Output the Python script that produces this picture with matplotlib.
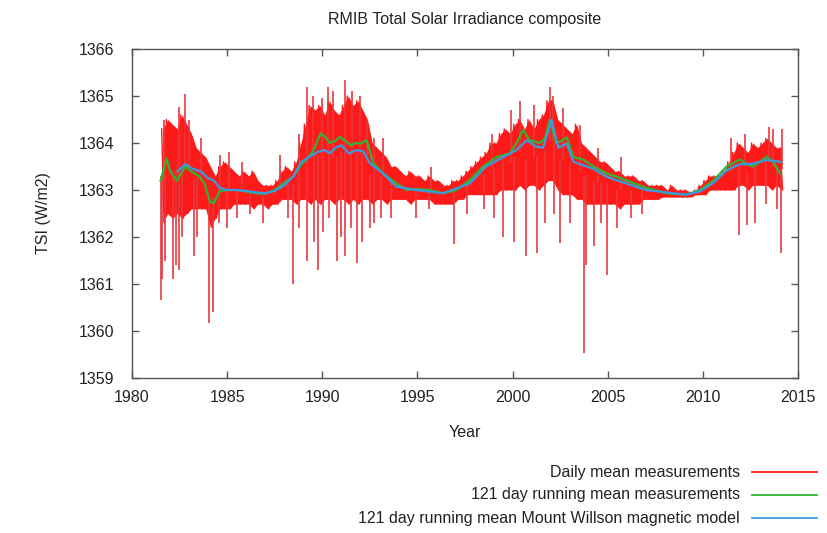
import numpy as np
import matplotlib
matplotlib.use("Agg")
import matplotlib.pyplot as plt
from matplotlib.lines import Line2D

plt.rcParams['font.family'] = ['Liberation Sans', 'DejaVu Sans']

# daily TSI, summarised per quarter year: typical upper and lower level (W/m2)
bin_start = 1981.5
bin_width = 0.25
daily_hi = [1364.3, 1364.5,
            1364.4, 1364.3, 1364.6, 1364.4,
            1364.2, 1363.9, 1363.8, 1363.7,
            1363.5, 1363.3, 1363.5, 1363.6,
            1363.5, 1363.4, 1363.3, 1363.4,
            1363.3, 1363.4, 1363.2, 1363.1,
            1363.1, 1363.1, 1363.2, 1363.4,
            1363.5, 1363.4, 1363.6, 1364.0,
            1364.4, 1364.8, 1364.7, 1364.8,
            1364.6, 1364.9, 1364.7, 1364.6,
            1364.8, 1365.0, 1364.8, 1364.9,
            1364.7, 1364.5, 1364.0, 1363.9,
            1363.8, 1363.7, 1363.5, 1363.5,
            1363.4, 1363.3, 1363.4, 1363.3,
            1363.3, 1363.2, 1363.3, 1363.2,
            1363.2, 1363.1, 1363.1, 1363.2,
            1363.2, 1363.3, 1363.4, 1363.5,
            1363.6, 1363.7, 1363.8, 1364.0,
            1364.0, 1364.2, 1364.3, 1364.2,
            1364.4, 1364.5, 1364.3, 1364.5,
            1364.3, 1364.5, 1364.6, 1364.9,
            1364.9, 1364.5, 1364.4, 1364.3,
            1364.2, 1364.4, 1364.0, 1363.9,
            1363.8, 1363.7, 1363.6, 1363.6,
            1363.5, 1363.4, 1363.4, 1363.3,
            1363.3, 1363.3, 1363.2, 1363.2,
            1363.1, 1363.1, 1363.1, 1363.1,
            1363.0, 1363.1, 1363.0, 1363.0,
            1363.0, 1362.95, 1363.0, 1363.1,
            1363.2, 1363.3, 1363.3, 1363.3,
            1363.4, 1363.6, 1363.8, 1364.0,
            1363.9, 1363.8, 1364.0, 1363.9,
            1364.0, 1364.1, 1364.0, 1363.9,
            1363.9]
daily_lo = [1362.3, 1362.5,
            1362.4, 1362.5, 1362.4, 1362.5,
            1362.6, 1362.6, 1362.6, 1362.6,
            1362.2, 1362.4, 1362.6, 1362.6,
            1362.6, 1362.7, 1362.7, 1362.7,
            1362.7, 1362.6, 1362.7, 1362.7,
            1362.6, 1362.7, 1362.7, 1362.8,
            1362.8, 1362.8, 1362.7, 1362.8,
            1362.8, 1362.7, 1362.8, 1362.7,
            1362.8, 1362.8, 1362.7, 1362.8,
            1362.8, 1362.7, 1362.8, 1362.7,
            1362.8, 1362.8, 1362.7, 1362.8,
            1362.8, 1362.7, 1362.8, 1362.8,
            1362.8, 1362.8, 1362.7, 1362.8,
            1362.8, 1362.8, 1362.8, 1362.7,
            1362.7, 1362.7, 1362.7, 1362.7,
            1362.8, 1362.8, 1362.9, 1362.9,
            1362.9, 1362.9, 1362.9, 1362.9,
            1362.9, 1363.0, 1363.0, 1363.0,
            1363.0, 1363.1, 1363.0, 1363.1,
            1363.1, 1363.0, 1363.1, 1363.2,
            1363.2, 1363.0, 1362.9, 1362.9,
            1362.9, 1362.8, 1362.8, 1362.7,
            1362.7, 1362.7, 1362.7, 1362.7,
            1362.7, 1362.7, 1362.6, 1362.7,
            1362.7, 1362.7, 1362.7, 1362.8,
            1362.8, 1362.8, 1362.8, 1362.85,
            1362.85, 1362.85, 1362.85, 1362.85,
            1362.85, 1362.85, 1362.9, 1362.9,
            1362.9, 1363.0, 1363.0, 1363.0,
            1363.0, 1363.0, 1363.0, 1363.1,
            1363.1, 1363.0, 1363.1, 1363.1,
            1363.1, 1363.1, 1363.0, 1363.1,
            1363.0]

# single days well outside the usual band
spike_year = [1981.52, 1981.6, 1981.7, 1981.75, 1982.17, 1982.3, 1982.47, 1982.47,
              1982.65, 1982.8, 1983.0, 1983.25, 1983.4, 1983.6, 1984.04, 1984.27,
              1984.55, 1984.6, 1985.0, 1985.1, 1985.5, 1985.8, 1986.2, 1986.9,
              1987.8, 1988.2, 1988.48, 1988.8, 1988.8, 1989.2, 1989.2, 1989.5,
              1989.55, 1989.75, 1990.0, 1990.05, 1990.3, 1990.35, 1990.55, 1990.75,
              1991.0, 1991.2, 1991.2, 1991.5, 1991.55, 1991.8, 1992.0, 1992.1,
              1992.35, 1992.5, 1992.7, 1992.7, 1993.1, 1993.2, 1993.6, 1994.9,
              1995.6, 1995.7, 1996.9, 1997.6, 1998.5, 1998.9, 1999.0, 1999.5,
              1999.9, 2000.1, 2000.4, 2000.7, 2001.1, 2001.3, 2001.7, 2001.95,
              2002.1, 2002.2, 2002.5, 2002.65, 2003.0, 2003.55, 2003.75, 2003.85,
              2004.3, 2004.5, 2004.65, 2004.95, 2005.5, 2005.7, 2006.2, 2006.8,
              2011.5, 2011.9, 2012.2, 2012.3, 2012.75, 2013.3, 2013.45, 2013.7,
              2013.9, 2014.1, 2014.15]
spike_tsi = [1360.67, 1361.1, 1364.5, 1361.5, 1361.1, 1361.4, 1361.3, 1364.77,
             1362.0, 1365.04, 1364.5, 1361.6, 1362.0, 1364.1, 1360.16, 1360.4,
             1362.3, 1363.75, 1362.2, 1363.8, 1362.4, 1363.6, 1362.5, 1362.3,
             1363.74, 1362.4, 1361.0, 1362.2, 1364.2, 1361.5, 1365.2, 1365.0,
             1361.9, 1361.3, 1364.95, 1362.1, 1365.2, 1362.4, 1365.1, 1361.5,
             1362.0, 1361.6, 1365.34, 1362.2, 1365.1, 1361.44, 1365.0, 1361.9,
             1364.5, 1362.2, 1362.3, 1364.1, 1362.4, 1364.1, 1362.4, 1362.4,
             1362.6, 1363.5, 1361.86, 1362.5, 1362.6, 1364.2, 1362.4, 1362.0,
             1364.7, 1361.9, 1364.9, 1361.6, 1364.8, 1361.65, 1362.3, 1365.2,
             1365.0, 1362.5, 1361.87, 1364.74, 1362.3, 1364.38, 1359.53, 1361.4,
             1361.8, 1363.9, 1362.3, 1361.2, 1362.2, 1363.7, 1362.4, 1362.5,
             1364.1, 1362.04, 1364.2, 1362.25, 1362.3, 1362.7, 1364.35, 1364.3,
             1362.6, 1361.65, 1364.3]

# 121 day running mean of the measurements
green_year = [1981.5, 1981.82, 1982.0, 1982.35, 1982.8, 1983.1, 1983.5, 1983.8, 1984.1,
              1984.3, 1984.6, 1985.0, 1985.5, 1986.0, 1986.5, 1987.0, 1987.5, 1988.0,
              1988.5, 1988.9, 1989.3, 1989.6, 1989.9, 1990.1, 1990.4, 1990.7, 1990.92,
              1991.2, 1991.5, 1991.75, 1992.0, 1992.33, 1992.68, 1993.2, 1993.9,
              1994.43, 1995.0, 1995.65, 1996.35, 1997.05, 1997.75, 1998.46, 1999.16,
              1999.86, 2000.2, 2000.56, 2000.9, 2001.43, 2001.7, 2001.96, 2002.3,
              2002.6, 2002.85, 2003.2, 2003.7, 2004.25, 2004.95, 2005.5, 2006.0,
              2007.0, 2008.1, 2009.1, 2009.85, 2010.55, 2011.25, 2011.95, 2012.3,
              2012.65, 2013.0, 2013.35, 2013.7, 2014.05]
green_tsi = [1363.2, 1363.67, 1363.4, 1363.2, 1363.5, 1363.4, 1363.3, 1363.15, 1362.75,
             1362.72, 1362.97, 1363.0, 1363.0, 1362.97, 1362.93, 1362.92, 1363.0, 1363.15,
             1363.3, 1363.55, 1363.7, 1363.9, 1364.2, 1364.15, 1364.0, 1364.05, 1364.13,
             1364.05, 1363.95, 1364.0, 1363.99, 1364.06, 1363.57, 1363.35, 1363.14,
             1363.0, 1363.02, 1363.0, 1362.93, 1363.0, 1363.21, 1363.5, 1363.7,
             1363.78, 1364.0, 1364.28, 1364.06, 1364.0, 1364.1, 1364.49, 1364.0,
             1364.05, 1364.12, 1363.7, 1363.65, 1363.5, 1363.35, 1363.28, 1363.2,
             1363.05, 1362.93, 1362.9, 1363.0, 1363.2, 1363.5, 1363.65, 1363.55,
             1363.5, 1363.6, 1363.71, 1363.6, 1363.35]

# 121 day running mean of the Mount Wilson magnetic model
blue_year = [1982.4, 1982.8, 1983.2, 1983.6, 1984.0, 1984.3, 1984.6, 1985.0, 1985.5,
             1986.0, 1986.5, 1987.0, 1987.5, 1988.0, 1988.5, 1988.9, 1989.3, 1989.7,
             1990.1, 1990.4, 1990.7, 1991.0, 1991.4, 1991.8, 1992.15, 1992.5, 1993.2,
             1993.9, 1994.95, 1996.35, 1997.75, 1998.6, 1999.5, 2000.2, 2000.75,
             2001.25, 2001.6, 2002.05, 2002.4, 2002.85, 2003.2, 2004.25, 2004.95,
             2007.0, 2009.1, 2009.85, 2010.55, 2011.25, 2011.95, 2012.65, 2013.35,
             2014.05]
blue_tsi = [1363.4, 1363.55, 1363.45, 1363.4, 1363.25, 1363.2, 1363.05, 1363.0, 1363.0,
            1362.98, 1362.95, 1362.93, 1362.98, 1363.1, 1363.3, 1363.6, 1363.7, 1363.8,
            1363.85, 1363.78, 1363.9, 1363.95, 1363.78, 1363.85, 1363.82, 1363.57, 1363.35,
            1363.07, 1363.0, 1362.93, 1363.14, 1363.5, 1363.7, 1363.85, 1364.06,
            1363.92, 1363.9, 1364.49, 1363.9, 1363.99, 1363.6, 1363.45, 1363.28,
            1363.0, 1362.9, 1362.97, 1363.15, 1363.42, 1363.55, 1363.56, 1363.64,
            1363.6]

x_ticks = [1980, 1985, 1990, 1995, 2000, 2005, 2010, 2015]
y_ticks = [1359, 1360, 1361, 1362, 1363, 1364, 1365, 1366]

labels = ["Daily mean measurements",
          "121 day running mean measurements",
          "121 day running mean Mount Willson magnetic model"]
colors = ["#ff1a1a", "#2fb52f", "#3a9ae0"]

n = len(daily_hi)
hi = np.array(daily_hi)
lo = np.array(daily_lo)
edges = bin_start + np.arange(n + 1) * bin_width
t_hi = edges[:-1] + 0.06
t_lo = edges[:-1] + 0.19

# zig-zag between the high and low of every quarter gives the daily scatter
t = np.ravel(np.column_stack([t_hi, t_lo]))
v = np.ravel(np.column_stack([hi, lo]))

# each spike starts from the middle of the band of its own quarter
idx = np.clip(((np.array(spike_year) - bin_start) / bin_width).astype(int), 0, n - 1)
spike_base = (hi[idx] + lo[idx]) / 2

fig = plt.figure(figsize=(8.27, 5.33), dpi=100)
ax = fig.add_axes([132 / 827, 1 - 378 / 533, 666 / 827, 329 / 533])

ax.fill_between(edges[:-1] + bin_width / 2, lo, hi, color=colors[0], lw=0)
ax.plot(t, v, color=colors[0], lw=1.0)
ax.vlines(spike_year, spike_base, spike_tsi, color="#e8383c", lw=1.2)
ax.plot(green_year, green_tsi, color=colors[1], lw=1.6)
ax.plot(blue_year, blue_tsi, color=colors[2], lw=1.6)

ax.set_xlim(1980, 2015)
ax.set_ylim(1359, 1366)
ax.set_xticks(x_ticks)
ax.set_yticks(y_ticks)
ax.tick_params(direction="in", length=5, width=1, color="#555555",
               top=True, right=True, labelsize=11.5, labelcolor="#222222")
ax.tick_params(axis="y", pad=13)
ax.tick_params(axis="x", pad=9)
for s in ax.spines.values():
    s.set_color("#555555")
    s.set_linewidth(1)

ax.set_title("RMIB Total Solar Irradiance composite", fontsize=11.5,
             color="#222222", pad=18)
ax.set_xlabel("Year", fontsize=11.5, color="#222222", labelpad=14)
ax.set_ylabel("TSI (W/m2)", fontsize=11.5, color="#222222", labelpad=20)

# key below the axes, text right-aligned with a line sample after it
rows_y = [472, 495, 518]
for lab, col, py in zip(labels, colors, rows_y):
    fy = 1 - py / 533
    fig.text(740 / 827, fy, lab, ha="right", va="center", fontsize=11.5,
             color="#222222")
    fig.add_artist(Line2D([752 / 827, 817 / 827], [fy, fy], color=col, lw=1.3))

fig.savefig("out.png", dpi=100)
